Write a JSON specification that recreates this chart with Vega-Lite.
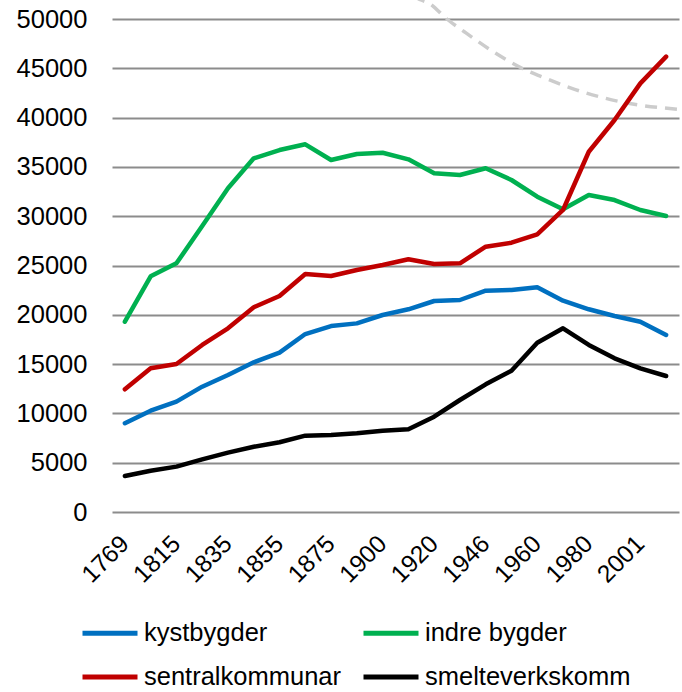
{
  "$schema": "https://vega.github.io/schema/vega-lite/v6.json",
  "width": 567,
  "height": 493,
  "autosize": {"type": "none"},
  "padding": {"left": 112, "top": 19, "right": 3, "bottom": 180},
  "background": "white",
  "config": {
    "view": {"stroke": null},
    "font": "Liberation Sans",
    "axis": {"labelFont": "Liberation Sans", "labelColor": "#000000"},
    "legend": {"labelFont": "Liberation Sans"}
  },
  "datasets": {
    "pop": [
      {"year": "1769", "serie": "kystbygder", "value": 9000},
      {"year": "1801", "serie": "kystbygder", "value": 10270},
      {"year": "1815", "serie": "kystbygder", "value": 11190},
      {"year": "1825", "serie": "kystbygder", "value": 12710},
      {"year": "1835", "serie": "kystbygder", "value": 13890},
      {"year": "1845", "serie": "kystbygder", "value": 15180},
      {"year": "1855", "serie": "kystbygder", "value": 16160},
      {"year": "1865", "serie": "kystbygder", "value": 18050},
      {"year": "1875", "serie": "kystbygder", "value": 18860},
      {"year": "1891", "serie": "kystbygder", "value": 19130},
      {"year": "1900", "serie": "kystbygder", "value": 19980},
      {"year": "1910", "serie": "kystbygder", "value": 20560},
      {"year": "1920", "serie": "kystbygder", "value": 21400},
      {"year": "1930", "serie": "kystbygder", "value": 21500},
      {"year": "1946", "serie": "kystbygder", "value": 22450},
      {"year": "1950", "serie": "kystbygder", "value": 22520},
      {"year": "1960", "serie": "kystbygder", "value": 22790},
      {"year": "1970", "serie": "kystbygder", "value": 21430},
      {"year": "1980", "serie": "kystbygder", "value": 20560},
      {"year": "1990", "serie": "kystbygder", "value": 19880},
      {"year": "2001", "serie": "kystbygder", "value": 19300},
      {"year": "2011", "serie": "kystbygder", "value": 17950},
      {"year": "1769", "serie": "indre bygder", "value": 19300},
      {"year": "1801", "serie": "indre bygder", "value": 23900},
      {"year": "1815", "serie": "indre bygder", "value": 25220},
      {"year": "1825", "serie": "indre bygder", "value": 29000},
      {"year": "1835", "serie": "indre bygder", "value": 32830},
      {"year": "1845", "serie": "indre bygder", "value": 35870},
      {"year": "1855", "serie": "indre bygder", "value": 36710},
      {"year": "1865", "serie": "indre bygder", "value": 37290},
      {"year": "1875", "serie": "indre bygder", "value": 35700},
      {"year": "1891", "serie": "indre bygder", "value": 36310},
      {"year": "1900", "serie": "indre bygder", "value": 36440},
      {"year": "1910", "serie": "indre bygder", "value": 35770},
      {"year": "1920", "serie": "indre bygder", "value": 34350},
      {"year": "1930", "serie": "indre bygder", "value": 34180},
      {"year": "1946", "serie": "indre bygder", "value": 34860},
      {"year": "1950", "serie": "indre bygder", "value": 33670},
      {"year": "1960", "serie": "indre bygder", "value": 31980},
      {"year": "1970", "serie": "indre bygder", "value": 30700},
      {"year": "1980", "serie": "indre bygder", "value": 32150},
      {"year": "1990", "serie": "indre bygder", "value": 31640},
      {"year": "2001", "serie": "indre bygder", "value": 30630},
      {"year": "2011", "serie": "indre bygder", "value": 30020},
      {"year": "1769", "serie": "sentralkommunar", "value": 12440},
      {"year": "1801", "serie": "sentralkommunar", "value": 14570},
      {"year": "1815", "serie": "sentralkommunar", "value": 15010},
      {"year": "1825", "serie": "sentralkommunar", "value": 16940},
      {"year": "1835", "serie": "sentralkommunar", "value": 18630},
      {"year": "1845", "serie": "sentralkommunar", "value": 20760},
      {"year": "1855", "serie": "sentralkommunar", "value": 21910},
      {"year": "1865", "serie": "sentralkommunar", "value": 24140},
      {"year": "1875", "serie": "sentralkommunar", "value": 23940},
      {"year": "1891", "serie": "sentralkommunar", "value": 24540},
      {"year": "1900", "serie": "sentralkommunar", "value": 25050},
      {"year": "1910", "serie": "sentralkommunar", "value": 25630},
      {"year": "1920", "serie": "sentralkommunar", "value": 25150},
      {"year": "1930", "serie": "sentralkommunar", "value": 25220},
      {"year": "1946", "serie": "sentralkommunar", "value": 26910},
      {"year": "1950", "serie": "sentralkommunar", "value": 27310},
      {"year": "1960", "serie": "sentralkommunar", "value": 28160},
      {"year": "1970", "serie": "sentralkommunar", "value": 30630},
      {"year": "1980", "serie": "sentralkommunar", "value": 36540},
      {"year": "1990", "serie": "sentralkommunar", "value": 39760},
      {"year": "2001", "serie": "sentralkommunar", "value": 43470},
      {"year": "2011", "serie": "sentralkommunar", "value": 46180},
      {"year": "1769", "serie": "smelteverkskomm", "value": 3650},
      {"year": "1801", "serie": "smelteverkskomm", "value": 4190},
      {"year": "1815", "serie": "smelteverkskomm", "value": 4600},
      {"year": "1825", "serie": "smelteverkskomm", "value": 5340},
      {"year": "1835", "serie": "smelteverkskomm", "value": 6020},
      {"year": "1845", "serie": "smelteverkskomm", "value": 6620},
      {"year": "1855", "serie": "smelteverkskomm", "value": 7070},
      {"year": "1865", "serie": "smelteverkskomm", "value": 7740},
      {"year": "1875", "serie": "smelteverkskomm", "value": 7810},
      {"year": "1891", "serie": "smelteverkskomm", "value": 7980},
      {"year": "1900", "serie": "smelteverkskomm", "value": 8250},
      {"year": "1910", "serie": "smelteverkskomm", "value": 8390},
      {"year": "1920", "serie": "smelteverkskomm", "value": 9670},
      {"year": "1930", "serie": "smelteverkskomm", "value": 11360},
      {"year": "1946", "serie": "smelteverkskomm", "value": 12950},
      {"year": "1950", "serie": "smelteverkskomm", "value": 14330},
      {"year": "1960", "serie": "smelteverkskomm", "value": 17170},
      {"year": "1970", "serie": "smelteverkskomm", "value": 18630},
      {"year": "1980", "serie": "smelteverkskomm", "value": 16940},
      {"year": "1990", "serie": "smelteverkskomm", "value": 15590},
      {"year": "2001", "serie": "smelteverkskomm", "value": 14570},
      {"year": "2011", "serie": "smelteverkskomm", "value": 13790}
    ],
    "curve": [
      {"pos": 11.2, "value": 52300},
      {"pos": 11.49, "value": 51930},
      {"pos": 11.81, "value": 51590},
      {"pos": 12.46, "value": 50070},
      {"pos": 13.17, "value": 48710},
      {"pos": 14.39, "value": 46520},
      {"pos": 15.41, "value": 45000},
      {"pos": 16.32, "value": 43990},
      {"pos": 17.34, "value": 42970},
      {"pos": 18.64, "value": 41960},
      {"pos": 19.92, "value": 41280},
      {"pos": 21.47, "value": 40840},
      {"pos": 21.7, "value": 40780}
    ]
  },
  "encoding": {
    "y": {
      "field": "value", "type": "quantitative",
      "scale": {"domain": [0, 50000], "nice": false},
      "axis": {
        "title": null, "values": [0, 5000, 10000, 15000, 20000, 25000, 30000, 35000, 40000, 45000, 50000],
        "format": "d", "labelFontSize": 25.5, "labelPadding": 25, "ticks": false, "domain": false,
        "grid": true, "gridColor": "#8c8c8c", "gridWidth": 1.8
      }
    }
  },
  "layer": [
    {
      "data": {"name": "curve"},
      "mark": {"type": "line", "clip": false, "color": "#cccccc", "strokeWidth": 3.5, "strokeDash": [12, 8], "interpolate": "monotone"},
      "encoding": {
        "x": {"field": "pos", "type": "quantitative", "scale": {"domain": [-0.5, 21.5], "nice": false, "zero": false}, "axis": null}
      }
    },
    {
      "data": {"name": "pop"},
      "mark": {"type": "line", "strokeWidth": 4.5, "strokeCap": "round", "strokeJoin": "round"},
      "encoding": {
        "x": {
          "field": "year", "type": "ordinal", "sort": null,
          "scale": {"type": "point", "padding": 0.5},
          "axis": {
            "title": null,
            "values": ["1769", "1815", "1835", "1855", "1875", "1900", "1920", "1946", "1960", "1980", "2001"],
            "labelAngle": -45, "labelAlign": "right", "labelBaseline": "middle",
            "labelFontSize": 24.5, "labelPadding": 28, "ticks": false, "domain": false, "grid": false
          }
        },
        "color": {
          "field": "serie", "type": "nominal",
          "scale": {"domain": ["kystbygder", "indre bygder", "sentralkommunar", "smelteverkskomm"], "range": ["#0070C0", "#00B050", "#C00000", "#000000"]},
          "legend": {
            "title": null, "orient": "none", "legendX": -32, "legendY": 584, "direction": "horizontal", "columns": 2,
            "symbolType": "stroke", "symbolSize": 3025, "symbolStrokeWidth": 5, "labelFontSize": 25.5, "labelOffset": 4,
            "columnPadding": 12, "rowPadding": -10, "labelLimit": 400
          }
        }
      }
    }
  ],
  "resolve": {"scale": {"x": "independent"}}
}
